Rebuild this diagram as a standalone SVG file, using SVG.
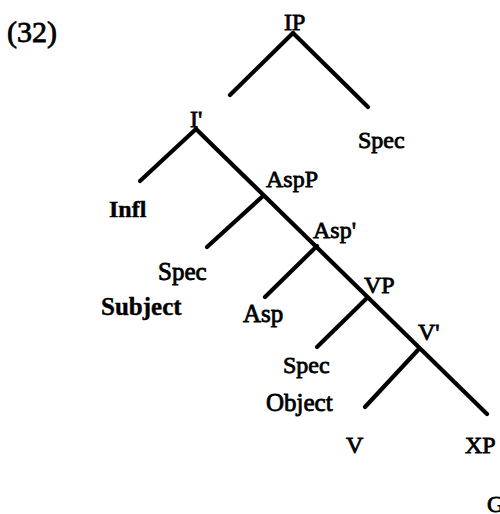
<svg xmlns="http://www.w3.org/2000/svg" width="500" height="514" viewBox="0 0 500 514">
<style>
text{font-family:"Liberation Serif","Times New Roman",serif;font-size:24px;fill:#000;stroke:#000;stroke-width:0.8}
.b{font-weight:bold;stroke-width:0.4}
.e{stroke:#000;stroke-width:4.2;stroke-linecap:round;fill:none}
</style>
<rect width="500" height="514" fill="#fff"/>
<g id="connectors">
<line class="e" x1="293" y1="33" x2="230" y2="95"/>
<line class="e" x1="293" y1="33" x2="368" y2="107"/>
<line class="e" x1="196" y1="129" x2="140" y2="181"/>
<line class="e" x1="196" y1="129" x2="487" y2="414"/>
<line class="e" x1="263" y1="196" x2="207" y2="247"/>
<line class="e" x1="317" y1="246" x2="265" y2="297"/>
<line class="e" x1="367" y1="298" x2="317" y2="347"/>
<line class="e" x1="418" y1="350" x2="365" y2="407"/>
</g>
<g id="label"><text x="7" y="42" style="font-size:30px">(32)</text></g>
<g id="IP"><text x="284" y="30">IP</text></g>
<g id="Spec1"><text x="358" y="148">Spec</text></g>
<g id="Ibar"><text x="190" y="127">I'</text></g>
<g id="Infl"><text class="b" x="109" y="217">Infl</text></g>
<g id="AspP"><text x="266" y="187">AspP</text></g>
<g id="Spec2"><text x="158" y="280" style="font-size:25px">Spec</text></g>
<g id="Subject"><text class="b" x="101" y="315" style="font-size:25px">Subject</text></g>
<g id="Aspbar"><text x="313" y="238">Asp'</text></g>
<g id="Asp"><text x="243" y="322" style="font-size:25px">Asp</text></g>
<g id="VP"><text x="364" y="293">VP</text></g>
<g id="Spec3"><text x="283" y="373">Spec</text></g>
<g id="Object"><text x="266" y="411" style="font-size:25px">Object</text></g>
<g id="Vbar"><text x="418" y="340">V'</text></g>
<g id="V"><text x="346" y="453">V</text></g>
<g id="XP"><text x="465" y="453">XP</text></g>
<g id="G"><text x="487" y="512">G</text></g>
</svg>
